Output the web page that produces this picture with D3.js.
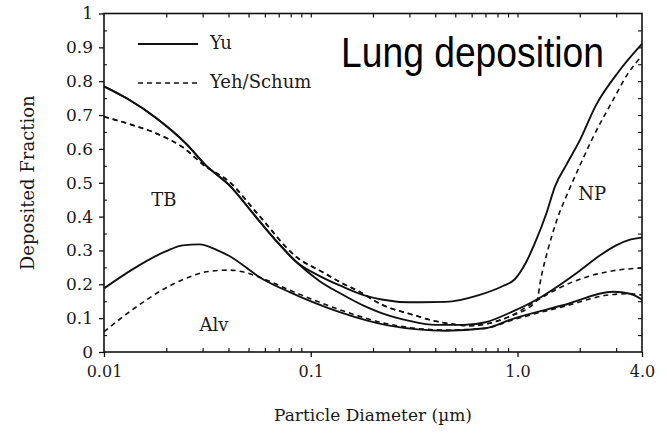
<!DOCTYPE html>
<html>
<head>
<meta charset="utf-8">
<script src="https://cdn.jsdelivr.net/npm/d3@7"></script>
<style>
  html, body { margin: 0; padding: 0; background: #fff; }
  svg { display: block; }
  .serif { font-family: "DejaVu Serif", "Liberation Serif", serif; fill: #1a1a1a; }
</style>
</head>
<body>
<svg id="chart" width="667" height="434"></svg>
<script>
// Deposited fraction vs particle diameter (µm), two models.
// Yu model (solid lines)
const yuUpper = [ // TB / NP upper curve
  [0.01,0.785],[0.013,0.748],[0.018,0.69],[0.025,0.615],[0.031,0.552],[0.04,0.495],
  [0.055,0.395],[0.07,0.32],[0.0855,0.265],[0.11,0.225],[0.14,0.195],[0.18,0.168],
  [0.22,0.155],[0.3,0.147],[0.45,0.148],[0.65,0.168],[0.85,0.195],[0.97,0.215],
  [1.1,0.265],[1.21,0.32],[1.38,0.41],[1.52,0.49],[1.73,0.555],[2.0,0.625],
  [2.4,0.73],[3.1,0.83],[4.0,0.91]
];
const yuMiddle = [ // TB lower branch
  [0.01,0.785],[0.013,0.748],[0.018,0.69],[0.025,0.615],[0.031,0.552],[0.04,0.495],
  [0.055,0.395],[0.07,0.32],[0.0855,0.265],[0.11,0.21],[0.14,0.172],[0.18,0.137],
  [0.22,0.115],[0.3,0.092],[0.4,0.08],[0.55,0.08],[0.7,0.088],[0.95,0.12],
  [1.24,0.155],[1.6,0.198],[2.0,0.24],[2.5,0.285],[3.0,0.315],[3.5,0.332],[4.0,0.338]
];
const yuAlv = [
  [0.01,0.188],[0.0138,0.245],[0.02,0.298],[0.024,0.315],[0.029,0.318],[0.035,0.302],
  [0.04,0.285],[0.0587,0.215],[0.079,0.177],[0.138,0.118],[0.24,0.078],[0.45,0.063],
  [0.7,0.07],[0.95,0.098],[1.66,0.138],[2.9,0.178],[3.5,0.172],[4.0,0.155]
];
// Yeh/Schum model (dashed lines)
const yehUpper = [
  [0.01,0.695],[0.013,0.675],[0.018,0.645],[0.024,0.605],[0.031,0.548],[0.04,0.505],
  [0.055,0.41],[0.0855,0.28],[0.115,0.235],[0.14,0.205],[0.17,0.18],[0.22,0.14],
  [0.3,0.113],[0.41,0.09],[0.59,0.078],[0.66,0.08],[0.9,0.103],[1.24,0.152],
  [1.3,0.22],[1.4,0.30],[1.55,0.39],[1.75,0.47],[2.0,0.55],[2.3,0.63],[2.9,0.745],
  [3.4,0.82],[4.0,0.875]
];
const yehMiddle = [
  [0.01,0.695],[0.013,0.675],[0.018,0.645],[0.024,0.605],[0.031,0.548],[0.04,0.505],
  [0.055,0.41],[0.0855,0.28],[0.115,0.235],[0.14,0.205],[0.17,0.18],[0.22,0.14],
  [0.3,0.113],[0.41,0.09],[0.59,0.078],[0.66,0.08],[0.9,0.103],[1.24,0.152],
  [1.6,0.19],[2.0,0.215],[2.9,0.24],[4.0,0.248]
];
const yehAlv = [
  [0.01,0.06],[0.0138,0.126],[0.02,0.19],[0.025,0.218],[0.032,0.238],[0.04,0.242],
  [0.046,0.238],[0.0587,0.217],[0.079,0.183],[0.138,0.125],[0.24,0.082],[0.45,0.065],
  [0.7,0.07],[0.95,0.095],[1.66,0.134],[2.9,0.17],[3.5,0.172],[4.0,0.168]
];

const xTickLabels = [[0.01,"0.01"],[0.1,"0.1"],[1,"1.0"],[4,"4.0"]];
const yTickValues = [0,0.1,0.2,0.3,0.4,0.5,0.6,0.7,0.8,0.9,1];
const regionLabels = [["TB",0.0195,0.445],["Alv",0.034,0.078],["NP",2.3,0.465]];
const legendItems = [["Yu",false],["Yeh/Schum",true]];

const svg = d3.select("#chart");
const x = d3.scaleLog().domain([0.01, 4]).range([104, 642]);
const y = d3.scaleLinear().domain([0, 1]).range([352, 13.5]);
const ink = "#111";

// frame
svg.append("rect")
  .attr("x", x(0.01)).attr("y", y(1))
  .attr("width", x(4) - x(0.01)).attr("height", y(0) - y(1))
  .attr("fill", "none").attr("stroke", ink).attr("stroke-width", 1.6);

// log minor positions
const minorX = [];
[0.01, 0.1, 1].forEach(dec => { for (let k = 2; k <= 9; k++) { const v = dec * k; if (v < 4) minorX.push(v); } });

// bottom axis: outward major ticks with labels, inward minor ticks
const xAxisB = d3.axisBottom(x).tickValues(xTickLabels.map(d => d[0]))
  .tickFormat((d, i) => xTickLabels[i][1]).tickSize(5).tickPadding(9);
const gB = svg.append("g").attr("transform", `translate(0,${y(0)})`).call(xAxisB);
gB.select(".domain").remove();
gB.selectAll("text").attr("class", "serif").style("font-size", "16px");
gB.selectAll("line").attr("stroke", ink).attr("stroke-width", 1.3);
svg.append("g").attr("transform", `translate(0,${y(0)})`)
  .call(d3.axisTop(x).tickValues(minorX).tickSize(4).tickFormat(""))
  .call(g => g.select(".domain").remove())
  .selectAll("line").attr("stroke", ink).attr("stroke-width", 1.2);
// top axis inward ticks
svg.append("g").attr("transform", `translate(0,${y(1)})`)
  .call(d3.axisBottom(x).tickValues(minorX.concat([0.1, 1])).tickSize(4).tickFormat(""))
  .call(g => g.select(".domain").remove())
  .selectAll("line").attr("stroke", ink).attr("stroke-width", 1.2);

// left axis
const yAxisL = d3.axisLeft(y).tickValues(yTickValues).tickFormat(d3.format("~g")).tickSize(5).tickPadding(6);
const gL = svg.append("g").attr("transform", `translate(${x(0.01)},0)`).call(yAxisL);
gL.select(".domain").remove();
gL.selectAll("text").attr("class", "serif").style("font-size", "17px");
gL.selectAll("line").attr("stroke", ink).attr("stroke-width", 1.3);
const halfTicks = d3.range(0.05, 1, 0.1);
svg.append("g").attr("transform", `translate(${x(0.01)},0)`)
  .call(d3.axisRight(y).tickValues(halfTicks).tickSize(3).tickFormat(""))
  .call(g => g.select(".domain").remove())
  .selectAll("line").attr("stroke", ink).attr("stroke-width", 1.1);
// right axis inward ticks
svg.append("g").attr("transform", `translate(${x(4)},0)`)
  .call(d3.axisLeft(y).tickValues(d3.range(0.05, 1, 0.05)).tickSize(4).tickFormat(""))
  .call(g => g.select(".domain").remove())
  .selectAll("line").attr("stroke", ink).attr("stroke-width", 1.1);

// axis titles
svg.append("text").attr("class", "serif")
  .attr("x", (x(0.01) + x(4)) / 2).attr("y", 421)
  .attr("text-anchor", "middle").style("font-size", "17px")
  .text("Particle Diameter (µm)");
svg.append("text").attr("class", "serif")
  .attr("transform", `translate(34,${(y(0) + y(1)) / 2}) rotate(-90)`)
  .attr("text-anchor", "middle").style("font-size", "18px")
  .text("Deposited Fraction");

// curves
const line = d3.line().x(d => x(d[0])).y(d => y(d[1])).curve(d3.curveMonotoneX);
const series = [
  [yuUpper, false], [yuMiddle, false], [yuAlv, false],
  [yehUpper, true], [yehMiddle, true], [yehAlv, true]
];
series.forEach(([data, dashed]) => {
  svg.append("path").datum(data)
    .attr("d", line)
    .attr("fill", "none").attr("stroke", ink)
    .attr("stroke-width", dashed ? 1.6 : 1.9)
    .attr("stroke-dasharray", dashed ? "5,4" : null)
    .attr("stroke-linejoin", "round");
});

// region labels
regionLabels.forEach(([t, dx, dy]) => {
  svg.append("text").attr("class", "serif")
    .attr("x", x(dx)).attr("y", y(dy))
    .attr("text-anchor", "middle").attr("dominant-baseline", "middle")
    .style("font-size", "18px").text(t);
});

// legend
legendItems.forEach(([name, dashed], i) => {
  const ly = 44 + i * 39;
  svg.append("line").attr("x1", 138).attr("x2", 198).attr("y1", ly).attr("y2", ly)
    .attr("stroke", ink).attr("stroke-width", dashed ? 1.6 : 1.9)
    .attr("stroke-dasharray", dashed ? "5,4" : null);
  svg.append("text").attr("class", "serif")
    .attr("x", 210).attr("y", ly).attr("dominant-baseline", "middle")
    .style("font-size", "18px").text(name);
});

// title
svg.append("text")
  .attr("x", 341).attr("y", 67)
  .attr("textLength", 263).attr("lengthAdjust", "spacingAndGlyphs")
  .style("font-family", "'Liberation Sans', Arial, sans-serif")
  .style("font-size", "42px").style("fill", "#000")
  .text("Lung deposition");
</script>
</body>
</html>
